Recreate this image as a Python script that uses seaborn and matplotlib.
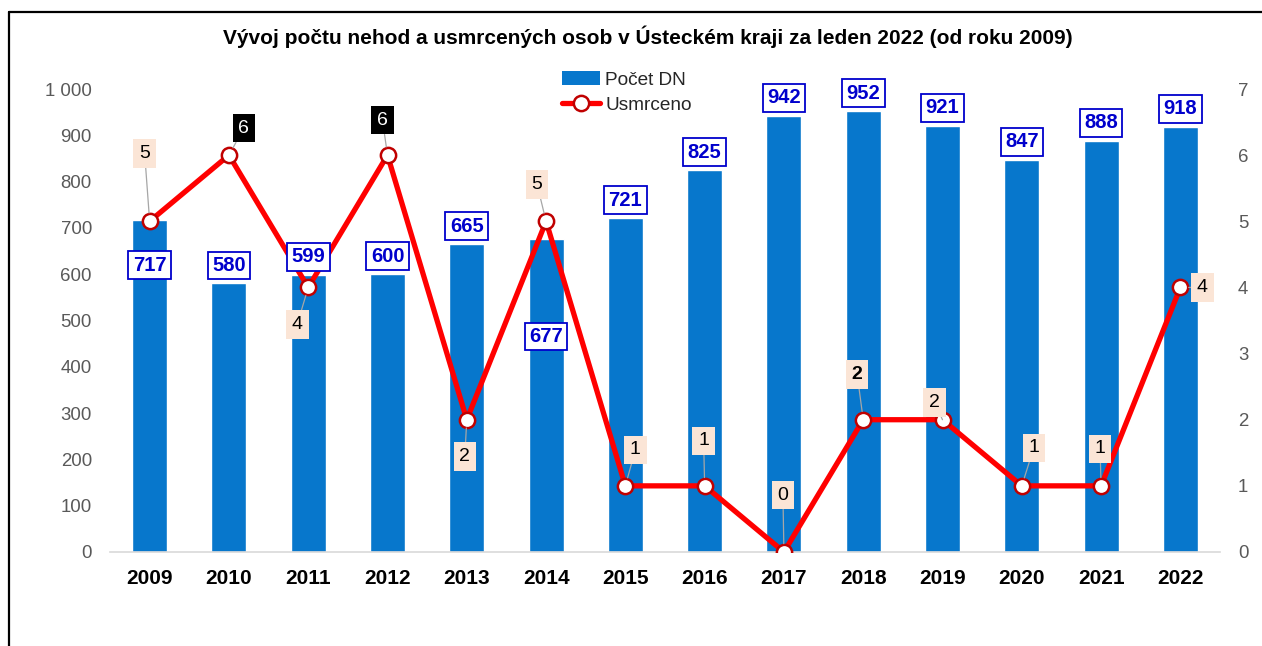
import numpy as np
import matplotlib
matplotlib.use("Agg")
import matplotlib.pyplot as plt
import seaborn as sns
from matplotlib.lines import Line2D
from matplotlib.patches import Patch
from matplotlib.ticker import FuncFormatter

# data
years = ['2009', '2010', '2011', '2012', '2013', '2014', '2015',
         '2016', '2017', '2018', '2019', '2020', '2021', '2022']
accidents = [717, 580, 599, 600, 665, 677, 721, 825, 942, 952, 921, 847, 888, 918]
deaths = [5, 6, 4, 6, 2, 5, 1, 1, 0, 2, 2, 1, 1, 4]

title = "Vývoj počtu nehod a usmrcených osob v Ústeckém kraji za leden 2022 (od roku 2009)"

# label placement (pixel offsets), kept apart from the data
bar_label_dy = {'2009': -45, '2014': -98}
death_label_off = [(-5, 68), (15, 27), (-11, -37), (-5, 35), (-2, -37), (-9, 37), (10, 36),
                   (-1, 45), (-1, 57), (-6, 45), (-8, 17), (12, 38), (-1, 37), (22, 0)]
black_labels = {'2010', '2012'}
bold_labels = {'2018'}

sns.set_style("white")
plt.rcParams['font.family'] = ['Liberation Sans', 'DejaVu Sans']

BLUE = '#0777cc'
RED = '#ff0000'
GREY = '#595959'

fig = plt.figure(figsize=(12.62, 6.46), dpi=100)
ax = fig.add_axes([110 / 1262, 94 / 646, 1110 / 1262, 463 / 646])

sns.barplot(x=years, y=accidents, color=BLUE, width=0.44, saturation=1, ax=ax)
n = len(years)
ax.set_xlim(-0.5, n - 0.5)
ax.set_ylim(0, 1000)
ax.set_yticks(range(0, 1001, 100))
ax.yaxis.set_major_formatter(FuncFormatter(lambda v, p: f"{int(v):,}".replace(",", " ")))
ax.set_xlabel("")
ax.set_ylabel("")
ax.tick_params(axis='y', length=0, pad=13, labelsize=13.4, labelcolor=GREY)
ax.tick_params(axis='x', length=0, pad=12, labelsize=15, labelcolor='black')
for t in ax.get_xticklabels():
    t.set_fontweight('bold')
for s in ['top', 'left', 'right']:
    ax.spines[s].set_visible(False)
ax.spines['bottom'].set_color('#d9d9d9')
ax.spines['bottom'].set_linewidth(1.2)

ax2 = ax.twinx()
sns.lineplot(x=np.arange(n), y=deaths, ax=ax2, color=RED, lw=3.8,
             marker='o', markersize=11, markerfacecolor='white',
             markeredgecolor='#c00000', markeredgewidth=1.8)
ax2.set_ylim(0, 7)
ax2.set_yticks(range(0, 8))
ax2.set_xlim(-0.5, n - 0.5)
ax2.tick_params(axis='y', length=0, pad=13, labelsize=13.4, labelcolor=GREY)
for s in ['top', 'left', 'right', 'bottom']:
    ax2.spines[s].set_visible(False)

# bar value labels
for i, (y, v) in enumerate(zip(years, accidents)):
    ax2.annotate(str(v), xy=(i, v), xycoords=ax.transData,
                 xytext=(0, bar_label_dy.get(y, 18)), textcoords='offset pixels',
                 ha='center', va='center', fontsize=14.5, fontweight='bold', color='#0000cc',
                 bbox=dict(boxstyle='square,pad=0.22', fc='white', ec='#0000cc', lw=1.3),
                 zorder=5)

# death labels with leader lines
for i, (y, d) in enumerate(zip(years, deaths)):
    dx, dy = death_label_off[i]
    black = y in black_labels
    ax2.annotate(str(d), xy=(i, d), xytext=(dx, dy), textcoords='offset pixels',
                 ha='center', va='center', fontsize=14,
                 fontweight='bold' if y in bold_labels else 'normal',
                 color='white' if black else 'black',
                 bbox=dict(boxstyle='square,pad=0.3', fc='black' if black else '#fbe5d6', ec='none'),
                 arrowprops=dict(arrowstyle='-', color='#a6a6a6', lw=0.9, shrinkA=0, shrinkB=6),
                 zorder=6)

fig.text(0.513, 1 - 37 / 646, title, ha='center', va='center', fontsize=15,
         fontweight='bold', color='black')

handles = [Patch(facecolor=BLUE, edgecolor='none'),
           Line2D([], [], color=RED, lw=3.8, marker='o', markersize=11, markerfacecolor='white',
                  markeredgecolor='#c00000', markeredgewidth=1.8)]
fig.legend(handles, ['Počet DN', 'Usmrceno'], loc='upper left',
           bbox_to_anchor=(549 / 1262, 1 - 58 / 646), frameon=False, fontsize=13.7,
           handlelength=2.0, handletextpad=0.25, labelspacing=0.4, borderpad=0.2)

# outer chart frame (cut at right and bottom)
fig.add_artist(Line2D([9 / 1262, 9 / 1262], [0, 1 - 12 / 646], color='black', lw=1.6))
fig.add_artist(Line2D([9 / 1262, 1], [1 - 12 / 646, 1 - 12 / 646], color='black', lw=1.6))

fig.savefig("out.png", dpi=100)
